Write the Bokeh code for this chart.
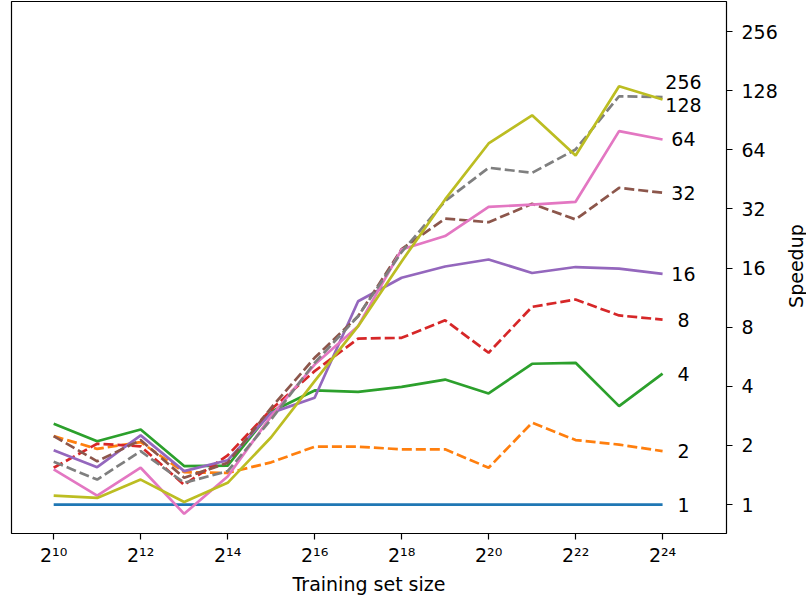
import math
from bokeh.plotting import figure
from bokeh.layouts import row
from bokeh.models import Range1d, FixedTicker, ColumnDataSource
from bokeh.core.properties import value
from bokeh.embed import file_html
from bokeh.resources import INLINE

# Training set sizes (powers of two)
exponents = list(range(10, 25))
sizes = [2 ** e for e in exponents]

threads = [1, 2, 4, 8, 16, 32, 64, 128, 256]

speedup_1 = [1.0] * 15
speedup_2 = [2.23, 1.92, 2.08, 1.46, 1.45, 1.64, 1.97, 1.97, 1.91, 1.91, 1.54, 2.61, 2.13, 2.02, 1.87]
speedup_4 = [2.58, 2.10, 2.41, 1.57, 1.58, 2.97, 3.81, 3.75, 3.97, 4.33, 3.68, 5.21, 5.27, 3.17, 4.64]
speedup_8 = [1.54, 2.04, 1.98, 1.26, 1.78, 3.05, 4.78, 7.0, 7.06, 8.68, 5.93, 10.16, 11.07, 9.18, 8.75]
speedup_16 = [1.89, 1.55, 2.25, 1.48, 1.68, 2.93, 3.5, 10.85, 14.28, 16.3, 17.7, 15.1, 16.2, 15.9, 14.96]
speedup_32 = [2.23, 1.66, 2.13, 1.37, 1.63, 3.11, 5.59, 9.1, 20.0, 28.6, 27.4, 34.0, 28.3, 41.0, 38.7]
speedup_64 = [1.51, 1.11, 1.54, 0.897, 1.39, 2.82, 5.16, 8.1, 19.9, 23.3, 32.8, 33.7, 34.8, 79.7, 72.3]
speedup_128 = [1.65, 1.34, 1.87, 1.29, 1.48, 2.71, 5.27, 9.1, 19.3, 35.1, 51.9, 48.9, 64.3, 120.0, 119.0]
speedup_256 = [1.11, 1.08, 1.34, 1.03, 1.29, 2.2, 4.25, 8.1, 17.3, 35.8, 69.0, 96.0, 59.9, 135.0, 115.6]

series = [speedup_1, speedup_2, speedup_4, speedup_8, speedup_16,
          speedup_32, speedup_64, speedup_128, speedup_256]

colors = ["#1f77b4", "#ff7f0e", "#2ca02c", "#d62728", "#9467bd",
          "#8c564b", "#e377c2", "#7f7f7f", "#bcbd22"]
dashed = [False, True, False, True, False, True, False, True, False]

x_ticks = [2 ** e for e in range(10, 25, 2)]
sup = str.maketrans("0123456789", "⁰¹²³⁴⁵⁶⁷⁸⁹")
x_tick_labels = ["2" + str(e).translate(sup) for e in range(10, 25, 2)]
y_ticks = [1, 2, 4, 8, 16, 32, 64, 128, 256]
y_tick_labels = [str(t) for t in y_ticks]

# label nudges (in octaves) where end labels would overlap
label_nudge = {256: 0.29, 128: -0.13}

FONT = "DejaVu Sans"
FRAME_W, FRAME_H = 715, 532
BORDER_L, BORDER_T, BORDER_R, BORDER_B = 11, 1, 54, 62
TOTAL_H = BORDER_T + FRAME_H + BORDER_B
SIDE_W = 26

p = figure(frame_width=FRAME_W, frame_height=FRAME_H,
           x_axis_type="log", y_axis_type="log", y_axis_location="right",
           x_range=Range1d(2 ** 9.03, 2 ** 25.47),
           y_range=Range1d(2 ** -0.49, 2 ** 8.51),
           output_backend="svg", toolbar_location=None,
           min_border_left=BORDER_L, min_border_top=BORDER_T,
           min_border_right=BORDER_R, min_border_bottom=BORDER_B)

p.grid.visible = False
p.outline_line_color = "black"
p.outline_line_width = 1.2
p.outline_line_alpha = 1.0
p.background_fill_color = "white"
p.border_fill_color = "white"

for vals, c, d in zip(series, colors, dashed):
    kw = dict(line_dash="10 4") if d else {}
    p.line(sizes, vals, line_color=c, line_width=2.7, **kw)

lab_x = [sizes[-1] * 2 ** 0.48] * len(threads)
lab_y = [s[-1] * 2 ** label_nudge.get(t, 0) for s, t in zip(series, threads)]
src = ColumnDataSource(dict(x=lab_x, y=lab_y, text=[str(t) for t in threads]))
p.text(x="x", y="y", text="text", source=src, text_align="center",
       text_baseline="middle", text_font=value(FONT), text_font_size="19px",
       text_color="black")

for ax in (p.xaxis, p.yaxis):
    ax.axis_line_color = None
    ax.major_tick_in = 0
    ax.major_tick_out = 6
    ax.major_tick_line_color = "black"
    ax.major_tick_line_width = 1.2
    ax.minor_tick_line_color = None
    ax.major_label_text_font = FONT
    ax.major_label_text_font_size = "19px"
    ax.major_label_text_color = "black"
    ax.axis_label_text_font = FONT
    ax.axis_label_text_font_size = "19px"
    ax.axis_label_text_font_style = "normal"
    ax.axis_label_text_color = "black"

p.xaxis.ticker = FixedTicker(ticks=x_ticks)
p.xaxis.major_label_overrides = dict(zip(x_ticks, x_tick_labels))
p.xaxis.major_label_standoff = 4
p.xaxis.axis_label = "Training set size"
p.xaxis.axis_label_standoff = 4

p.yaxis.ticker = FixedTicker(ticks=y_ticks)
p.yaxis.major_label_overrides = dict(zip(y_ticks, y_tick_labels))
p.yaxis.major_label_standoff = 9

# side strip holding the rotated y-axis title, centred on the plot frame
side = figure(width=SIDE_W, height=TOTAL_H, x_range=Range1d(0, SIDE_W),
              y_range=Range1d(TOTAL_H, 0), output_backend="svg",
              toolbar_location=None, min_border=0)
side.axis.visible = False
side.grid.visible = False
side.outline_line_color = None
side.border_fill_color = "white"
side.text(x=[SIDE_W * 0.58], y=[BORDER_T + FRAME_H / 2 + 30], text=["Speedup"],
          angle=math.pi / 2, text_align="center", text_baseline="middle",
          text_font=value(FONT), text_font_size="19px", text_color="black")

layout = row(p, side, spacing=0)
open("out.html", "w").write(file_html(layout, INLINE))
